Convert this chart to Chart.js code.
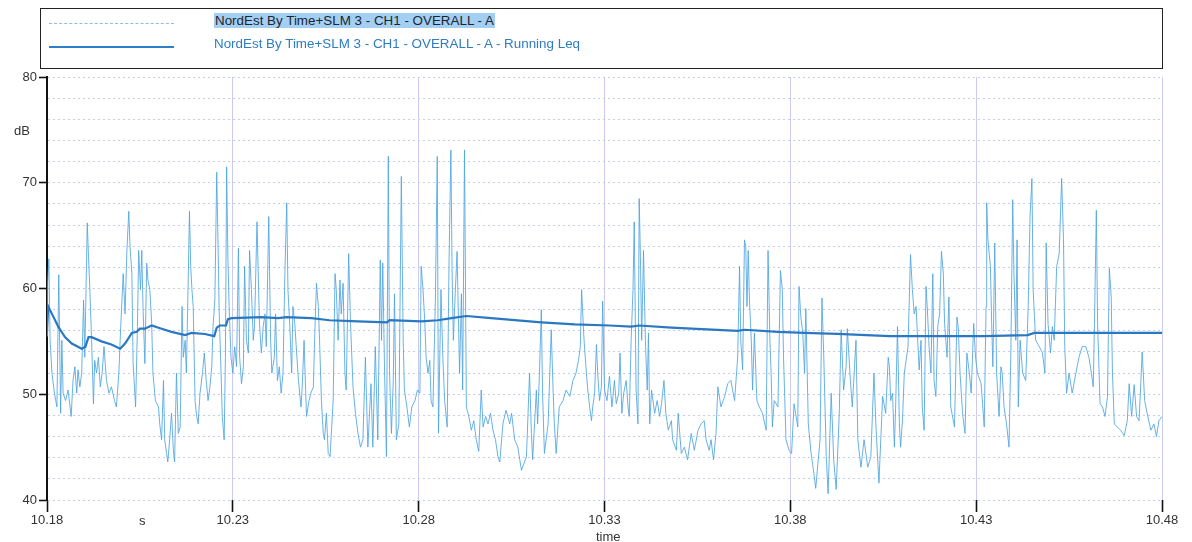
<!DOCTYPE html>
<html>
<head>
<meta charset="utf-8">
<title>NordEst By Time+SLM 3 - CH1 - OVERALL - A</title>
<script src="https://cdn.jsdelivr.net/npm/chart.js@4/dist/chart.umd.min.js"></script>
<style>
  html, body { margin: 0; padding: 0; background: #ffffff; }
  #wrap { position: relative; width: 1192px; height: 542px; overflow: hidden;
          font-family: "Liberation Sans", Arial, sans-serif; color: #333; }
  #chart { position: absolute; left: 0; top: 0; }
  .legend { position: absolute; left: 40px; top: 8px; width: 1123px; height: 61px;
            border: 1.5px solid #222; box-sizing: border-box; }
  .legend .row { position: absolute; left: 0; height: 18px; width: 100%; }
  .legend .sample { position: absolute; left: 8px; width: 125px; }
  .legend .txt { position: absolute; left: 173px; top: 0; font-size: 13.4px; line-height: 17px;
                 white-space: nowrap; }
  .lbl { position: absolute; font-size: 13px; line-height: 15px; white-space: nowrap; }
</style>
</head>
<body>
<div id="wrap">
  <canvas id="chart" width="1192" height="542"></canvas>
  <div class="legend" id="legend"></div>
  <div class="lbl" style="left:14px; top:123px;">dB</div>
  <div class="lbl" style="left:139px; top:513px;">s</div>
  <div class="lbl" style="left:596px; top:529px;">time</div>
</div>
<script>
// Time axis: seconds elapsed since 10.18, labelled every 5 minutes
const xTickLabels = ['10.18', '10.23', '10.28', '10.33', '10.38', '10.43', '10.48'];

const seriesNames = [
  'NordEst By Time+SLM 3 - CH1 - OVERALL - A',
  'NordEst By Time+SLM 3 - CH1 - OVERALL - A - Running Leq'
];

// Short-term A-weighted level, dB (time in s after 10.18)
const elapsedSec = [
  0,1,3,5,8,12,16,19,22,24,26,30,34,39,42,45,48,50,53,56,59,61,65,67,69,72,75,77,80,83,86,89,92,96,100,104,109,112,116,119,
  123,126,129,132,134,137,139,143,146,148,151,153,155,158,161,163,166,169,171,175,180,182,185,188,190,193,195,198,201,204,206,209,212,215,218,220,223,225,228,230,
  232,234,236,239,241,244,247,251,254,257,260,263,266,268,271,274,276,278,281,283,286,288,290,292,294,297,300,303,306,309,311,314,317,319,322,325,327,330,333,335,
  339,341,343,346,349,352,354,358,361,363,367,369,372,375,378,381,384,387,389,392,395,397,400,403,406,410,412,415,417,419,423,426,430,432,435,438,440,443,446,448,
  451,454,457,459,462,465,467,470,473,475,478,481,483,487,490,494,498,502,506,510,514,518,523,526,530,534,538,540,542,545,548,551,553,556,559,561,564,568,572,575,
  577,581,585,589,594,598,602,604,607,610,612,615,618,620,623,627,630,632,636,639,642,646,649,652,654,656,659,662,666,669,671,674,677,681,685,689,693,697,701,704,
  708,712,716,720,724,728,731,736,741,747,750,755,760,766,769,774,779,782,784,790,792,795,798,800,803,809,814,817,819,822,827,833,838,844,849,854,858,861,863,867,
  870,873,876,879,881,884,887,889,892,895,897,900,904,908,912,916,919,923,925,928,931,935,938,940,943,946,948,951,954,956,958,960,963,966,969,971,973,976,981,985,
  989,992,996,999,1003,1008,1010,1016,1019,1024,1029,1034,1040,1045,1051,1056,1061,1064,1069,1072,1076,1080,1083,1088,1094,1099,1104,1110,1115,1118,1120,1123,1126,1128,1130,1132,1134,1137,1139,1142,
  1146,1150,1155,1161,1164,1167,1169,1171,1174,1180,1184,1187,1189,1193,1198,1202,1206,1212,1214,1217,1220,1223,1225,1229,1233,1238,1241,1244,1248,1251,1254,1258,1261,1266,1270,1274,1279,1282,1286,1290,
  1292,1297,1300,1306,1309,1314,1319,1325,1330,1335,1338,1343,1349,1354,1358,1360,1362,1365,1368,1370,1373,1376,1378,1381,1384,1387,1390,1394,1397,1400,1403,1405,1408,1411,1413,1416,1419,1421,1424,1427,
  1430,1432,1435,1438,1441,1444,1447,1449,1453,1456,1459,1465,1469,1471,1474,1478,1482,1485,1489,1492,1496,1499,1502,1508,1513,1516,1517,1519,1523,1525,1527,1530,1533,1537,1540,1542,1545,1549,1553,1556,
  1559,1561,1564,1566,1568,1571,1575,1580,1584,1587,1590,1592,1596,1602,1607,1611,1613,1616,1620,1623,1626,1630,1634,1638,1641,1643,1646,1650,1655,1661,1666,1671,1677,1682,1686,1689,1691,1694,1696,1700,
  1704,1708,1712,1715,1718,1720,1723,1728,1733,1739,1744,1747,1751,1755,1759,1763,1768,1772,1776,1782,1787,1791,1795,1800
];
const levelDb = [
  55.5,60.5,62.8,55.1,52.0,50.1,48.8,61.3,48.2,55.1,50.1,49.4,50.4,47.9,51.3,52.6,50.1,52.3,50.7,52.0,58.9,53.5,66.2,63.0,60.2,55.1,49.1,53.2,52.0,53.5,50.7,52.0,54.5,51.3,50.1,50.7,49.4,48.8,52.0,56.4,
  61.4,57.6,63.6,67.3,64.0,61.4,52.9,48.8,56.4,63.6,59.9,63.6,58.3,52.9,62.4,60.8,59.9,56.7,52.0,49.4,48.8,47.2,45.7,51.3,45.7,44.4,43.6,45.7,48.2,44.7,43.6,52.0,46.3,46.9,58.3,53.5,55.1,52.0,60.8,67.3,
  62.1,59.9,58.3,49.4,48.2,47.2,50.1,52.0,53.9,51.3,49.4,50.7,52.6,56.4,58.9,71.0,64.6,57.6,52.0,47.9,45.7,53.5,71.5,63.0,58.3,53.5,52.0,54.5,52.6,63.8,53.5,51.0,52.6,62.1,55.1,53.9,63.6,59.9,55.1,56.4,
  66.3,61.4,56.7,53.9,56.4,57.6,54.5,66.8,55.1,52.0,53.5,57.6,51.3,52.6,50.1,52.0,61.4,68.1,59.9,56.4,52.0,58.3,56.7,53.9,51.3,48.8,50.7,55.1,51.3,47.9,49.4,50.1,50.7,55.1,60.5,58.3,55.1,49.4,46.3,45.7,
  48.2,44.4,44.1,46.3,49.4,61.4,59.9,55.1,60.8,57.6,60.5,52.0,50.4,63.3,56.7,50.7,48.2,46.3,45.0,45.7,53.5,45.0,51.0,45.0,54.5,45.7,62.7,55.1,62.4,52.0,44.1,72.5,52.0,46.3,51.3,59.5,45.7,47.2,70.6,55.1,
  50.4,48.8,46.9,48.8,49.4,50.4,50.1,62.1,59.9,56.7,53.5,52.0,53.2,49.4,48.8,58.9,72.5,46.3,59.9,53.5,49.4,46.9,62.4,73.1,61.4,55.1,59.5,63.5,52.0,59.5,50.4,73.1,48.8,47.9,46.6,47.5,45.7,44.6,50.4,46.9,
  47.9,47.2,48.2,46.6,45.7,44.1,43.6,47.2,48.5,47.2,48.2,45.7,45.0,42.8,43.3,44.1,52.0,46.3,43.8,50.4,47.2,52.0,58.0,50.1,44.4,47.2,56.1,50.4,47.2,44.4,48.8,49.4,50.4,49.8,51.3,52.0,53.2,54.5,59.9,55.1,
  52.6,50.4,48.8,47.5,48.8,50.1,54.7,52.0,49.4,50.7,58.8,50.4,49.4,51.7,48.8,51.3,49.1,50.1,53.9,48.2,50.1,51.3,48.8,47.9,55.1,59.9,66.3,50.4,47.2,68.5,63.0,55.1,63.6,55.1,50.4,55.8,47.2,50.4,48.2,49.4,
  47.9,49.1,51.3,48.2,46.6,47.5,45.7,44.7,48.2,44.4,45.0,43.8,46.3,44.7,46.6,47.2,47.5,45.7,44.7,45.7,43.8,46.3,50.7,48.8,49.8,51.0,51.3,49.4,53.5,62.1,55.1,52.3,64.6,64.0,58.3,63.6,58.9,55.1,50.4,55.8,
  49.4,48.8,48.2,46.6,63.6,55.1,52.0,46.9,49.4,48.8,61.7,59.9,53.5,45.7,44.7,44.4,49.1,46.9,60.2,57.3,55.8,52.0,58.1,47.2,44.7,42.5,41.1,43.1,45.7,59.1,53.5,44.1,40.6,50.1,43.8,41.0,48.2,56.1,50.4,52.6,
  56.2,51.3,48.8,55.1,45.7,43.1,45.7,43.1,44.1,52.0,47.2,41.6,49.8,48.2,53.5,52.6,49.4,50.1,45.0,48.8,56.4,47.2,45.0,47.5,52.0,53.2,54.5,63.2,59.9,57.6,58.3,55.8,52.3,55.1,48.8,46.6,60.2,58.3,54.5,52.0,
  61.4,51.3,49.8,56.4,57.6,63.5,61.4,56.7,53.5,59.2,48.8,46.9,57.3,56.4,52.0,48.2,46.3,53.9,52.0,50.1,56.7,53.5,52.0,51.0,46.9,58.3,68.1,64.6,62.1,56.7,52.6,64.3,52.0,47.9,52.6,52.0,48.8,47.2,45.0,53.9,
  68.4,61.4,55.1,64.6,48.8,55.1,52.0,51.3,58.3,66.8,70.4,59.9,55.1,54.5,53.9,52.0,64.3,56.7,53.9,56.4,55.1,62.1,63.3,70.4,64.6,54.5,50.1,52.0,50.1,52.0,53.5,54.5,54.5,53.5,52.0,50.7,56.7,67.4,56.7,49.1,
  48.8,47.9,49.8,61.9,59.2,52.0,47.2,46.9,46.6,46.1,47.5,51.0,47.9,50.9,47.9,47.5,54.0,49.4,48.2,46.6,47.2,46.0,47.5,47.9
];

// Running Leq, dB
const leqSec = [0,2,8,18,29,40,56,62,67,72,88,104,118,126,137,145,150,158,169,185,201,223,233,255,270,274,279,289,292,298,346,373,387,427,456,
  502,549,553,604,631,653,677,717,798,852,908,943,956,1008,1115,1126,1180,1223,1276,1360,1513,1583,1594,1642,1800];
const leqDb = [56.1,58.3,57.6,56.4,55.4,54.8,54.3,54.5,55.4,55.4,55.0,54.7,54.3,54.8,55.8,55.9,56.2,56.2,56.5,56.2,55.9,55.6,55.8,55.7,55.5,56.3,56.5,56.5,57.1,57.2,57.3,57.2,57.3,57.2,57.0,
  56.9,56.8,57.0,56.9,57.0,57.2,57.4,57.2,56.8,56.6,56.5,56.4,56.5,56.3,56.0,56.1,55.9,55.8,55.7,55.5,55.5,55.6,55.8,55.8,55.8];

const yTickValue = v => v % 10 === 0;

const toPoints = (xs, ys) => xs.map((x, i) => ({ x: x, y: ys[i] }));

// Legend drawn as a boxed HTML block above the plot
const legendEl = document.getElementById('legend');
[
  { top: 3, sample: 'border-top:1.2px dashed #86bfe8;', text: '<span style="background:#a3cff2;color:#1d2530;padding:0 1px;">' + seriesNames[0] + '</span>' },
  { top: 26, sample: 'border-top:2px solid #2f7fc6;', text: '<span style="color:#2f7cc2;">' + seriesNames[1] + '</span>' }
].forEach(r => {
  const row = document.createElement('div');
  row.className = 'row';
  row.style.top = r.top + 'px';
  row.innerHTML = '<div class="sample" style="top:11px;' + r.sample + '"></div><div class="txt">' + r.text + '</div>';
  legendEl.appendChild(row);
});

new Chart(document.getElementById('chart'), {
  type: 'line',
  data: {
    datasets: [
      {
        label: seriesNames[1],
        data: toPoints(leqSec, leqDb),
        borderColor: '#2a78c2',
        borderWidth: 2.2,
        pointRadius: 0,
        tension: 0,
        order: 0
      },
      {
        label: seriesNames[0],
        data: toPoints(elapsedSec, levelDb),
        borderColor: 'rgba(78,164,224,0.85)',
        borderWidth: 1,
        pointRadius: 0,
        tension: 0,
        order: 1
      }
    ]
  },
  options: {
    responsive: false,
    devicePixelRatio: 1,
    animation: false,
    layout: { padding: { top: 77, right: 30, left: 0, bottom: 0 } },
    plugins: { legend: { display: false }, tooltip: { enabled: false } },
    scales: {
      x: {
        type: 'linear',
        min: 0,
        max: 1800,
        afterFit: s => { s.height = 42; },
        ticks: {
          stepSize: 300,
          autoSkip: false,
          maxRotation: 0,
          padding: 1,
          color: '#333',
          font: { family: '"Liberation Sans", Arial, sans-serif', size: 13 },
          callback: (v, i) => xTickLabels[i]
        },
        grid: {
          color: c => (c.tick && c.tick.value === 0) ? 'rgba(0,0,0,0)' : '#cbcbef',
          lineWidth: 1,
          tickLength: 12,
          tickColor: '#111',
          tickWidth: 1.6
        },
        border: { display: false }
      },
      y: {
        min: 40,
        max: 80,
        afterFit: s => { s.width = 47; },
        ticks: {
          stepSize: 2,
          autoSkip: false,
          padding: 2,
          color: '#333',
          font: { family: '"Liberation Sans", Arial, sans-serif', size: 13 },
          callback: v => yTickValue(v) ? String(v) : ''
        },
        grid: {
          color: '#c6cdec',
          lineWidth: 1,
          tickLength: 8,
          tickColor: c => (c.tick && yTickValue(c.tick.value)) ? '#111' : 'rgba(0,0,0,0)',
          tickWidth: 1.6
        },
        border: { display: true, color: '#111', width: 2, dash: [2, 3] }
      }
    }
  }
});
</script>
</body>
</html>
